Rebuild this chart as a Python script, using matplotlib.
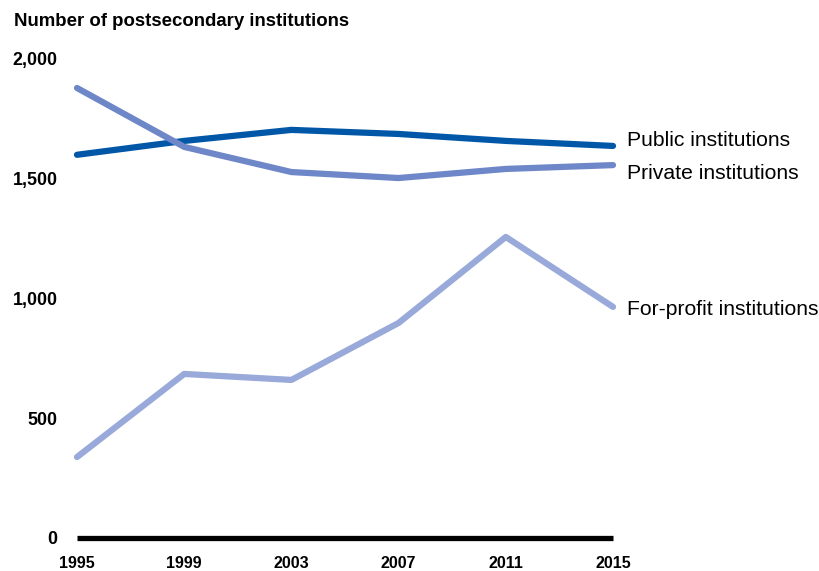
import matplotlib.pyplot as plt

years = [1995, 1999, 2003, 2007, 2011, 2015]
public = [1600, 1658, 1704, 1687, 1658, 1637]
private = [1879, 1633, 1528, 1503, 1541, 1557]
forprofit = [338, 685, 660, 898, 1257, 965]

labels = ['Public institutions', 'Private institutions', 'For-profit institutions']
colors = ['#0057a8', '#6e87c8', '#98a9da']
label_offsets = [4, -6, -2]   # nudge so the labels don't collide

plt.rcParams['font.family'] = ['Liberation Sans', 'DejaVu Sans']

fig = plt.figure(figsize=(8.2, 5.71), dpi=100)
ax = fig.add_axes([77/820, 33/571, 536/820, 479/571])

series = [public, private, forprofit]
for vals, col, lab, off in zip(series, colors, labels, label_offsets):
    ax.plot(years, vals, color=col, lw=4.5, solid_capstyle='round', clip_on=False)
    ax.annotate(lab, (years[-1], vals[-1]), xytext=(10, off), textcoords='offset points',
                va='center', ha='left', fontsize=15.2, color='black', annotation_clip=False)

# black baseline
ax.plot([years[0], years[-1]], [0, 0], color='black', lw=3.8, solid_capstyle='butt', clip_on=False)

ax.set_xlim(1995, 2015)
ax.set_ylim(0, 2000)
ax.set_xticks(years)
ax.set_xticklabels([str(y) for y in years], fontweight='bold', fontsize=11.5)
ax.set_yticks([0, 500, 1000, 1500, 2000])
ax.set_yticklabels(['0', '500', '1,000', '1,500', '2,000'], fontweight='bold', fontsize=12.9)
ax.tick_params(axis='both', length=0)
ax.tick_params(axis='y', pad=14)
ax.tick_params(axis='x', pad=13)
for s in ax.spines.values():
    s.set_visible(False)

fig.text(14/820, 1 - 21/571, 'Number of postsecondary institutions', fontsize=13.4,
         fontweight='bold', va='center', ha='left')

fig.savefig('out.png', dpi=100)
